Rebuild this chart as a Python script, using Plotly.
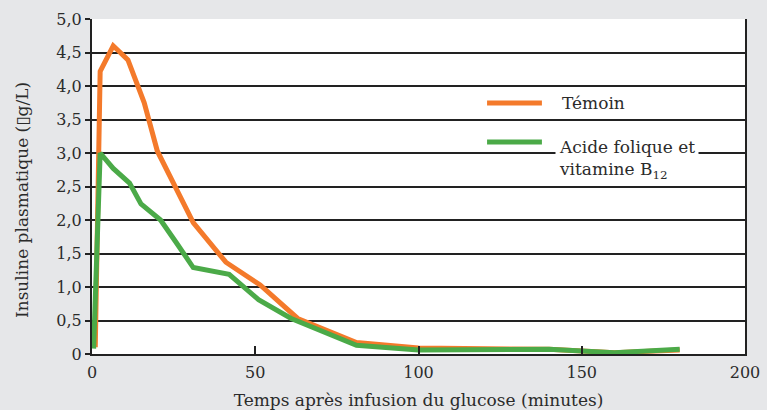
import plotly.graph_objects as go

# Data
temoin_x = [1, 2.5, 6.5, 11, 16, 20, 31, 41, 51.5, 63, 81, 100, 140, 160, 180]
temoin_y = [0.1, 4.22, 4.6, 4.39, 3.75, 3.03, 1.96, 1.37, 1.03, 0.53, 0.17, 0.09, 0.07, 0.02, 0.06]

acide_x = [0.5, 2.5, 6.5, 11.5, 15, 21, 26, 31, 42, 51, 61, 81, 100, 140, 160, 180]
acide_y = [0.08, 3.0, 2.77, 2.55, 2.24, 2.0, 1.65, 1.29, 1.19, 0.81, 0.53, 0.13, 0.06, 0.07, 0.02, 0.07]

y_tickvals = [0, 0.5, 1, 1.5, 2, 2.5, 3, 3.5, 4, 4.5, 5]
y_ticktext = ["0", "0,5", "1,0", "1,5", "2,0", "2,5", "3,0", "3,5", "4,0", "4,5", "5,0"]
x_tickvals = [0, 50, 100, 150, 200]

ORANGE = "#F47A2B"
GREEN = "#4BAA48"
FONT = "DejaVu Serif"
TXT = "#2b2b2b"

fig = go.Figure()
fig.add_trace(go.Scatter(x=temoin_x, y=temoin_y, mode="lines",
                         line=dict(color=ORANGE, width=5), name="Témoin",
                         showlegend=False))
fig.add_trace(go.Scatter(x=acide_x, y=acide_y, mode="lines",
                         line=dict(color=GREEN, width=5),
                         name="Acide folique et vitamine B12", showlegend=False))

fig.update_layout(
    width=767, height=410,
    margin=dict(l=92, r=22, t=19, b=56),
    paper_bgcolor="#E6E7E9",
    plot_bgcolor="white",
    font=dict(family=FONT, size=16, color=TXT),
    xaxis=dict(range=[0, 200], tickvals=x_tickvals, ticks="inside", ticklen=8,
               tickwidth=1.5, tickcolor="#222", showgrid=False, zeroline=False,
               showline=True, linecolor="#222", linewidth=2, automargin=False,
               ticklabelstandoff=3,
               title=dict(text="Temps après infusion du glucose (minutes)",
                          font=dict(size=17), standoff=17),
               tickfont=dict(size=16)),
    yaxis=dict(range=[0, 5], tickvals=y_tickvals, ticktext=y_ticktext,
               ticks="outside", ticklen=5, tickwidth=1.5, tickcolor="#222",
               showgrid=True, gridcolor="#222", gridwidth=1.5, zeroline=False,
               showline=True, linecolor="#222", linewidth=2, mirror=True,
               automargin=False, tickfont=dict(size=16)),
)

# Y-axis title
fig.add_annotation(text="Insuline plasmatique (\u25afg/L)",
                   xref="paper", yref="paper", x=-0.107, y=0.46,
                   xanchor="center", yanchor="middle",
                   textangle=-90, showarrow=False, font=dict(size=17, color=TXT))

# Manual legend
fig.add_shape(type="line", xref="paper", yref="paper", x0=0.605, x1=0.689,
              y0=0.749, y1=0.749, line=dict(color=ORANGE, width=5))
fig.add_shape(type="line", xref="paper", yref="paper", x0=0.605, x1=0.689,
              y0=0.633, y1=0.633, line=dict(color=GREEN, width=5))
fig.add_annotation(text="Témoin", xref="paper", yref="paper", x=0.716, y=0.749,
                   xanchor="left", yanchor="middle", showarrow=False,
                   font=dict(size=17, color=TXT))
fig.add_annotation(text="Acide folique et<br>vitamine B<sub>12</sub>",
                   xref="paper", yref="paper", x=0.709, y=0.66,
                   xanchor="left", yanchor="top", align="left", showarrow=False,
                   bgcolor="white", borderpad=3,
                   font=dict(size=17, color=TXT))

fig.write_html(
    "out.html",
    config={"displayModeBar": False},
    post_script=["document.documentElement.style.margin='0';"
                 "document.documentElement.style.overflow='hidden';"
                 "document.body.style.margin='0';document.body.style.padding='0';"
                 "document.body.style.overflow='hidden';"],
)
